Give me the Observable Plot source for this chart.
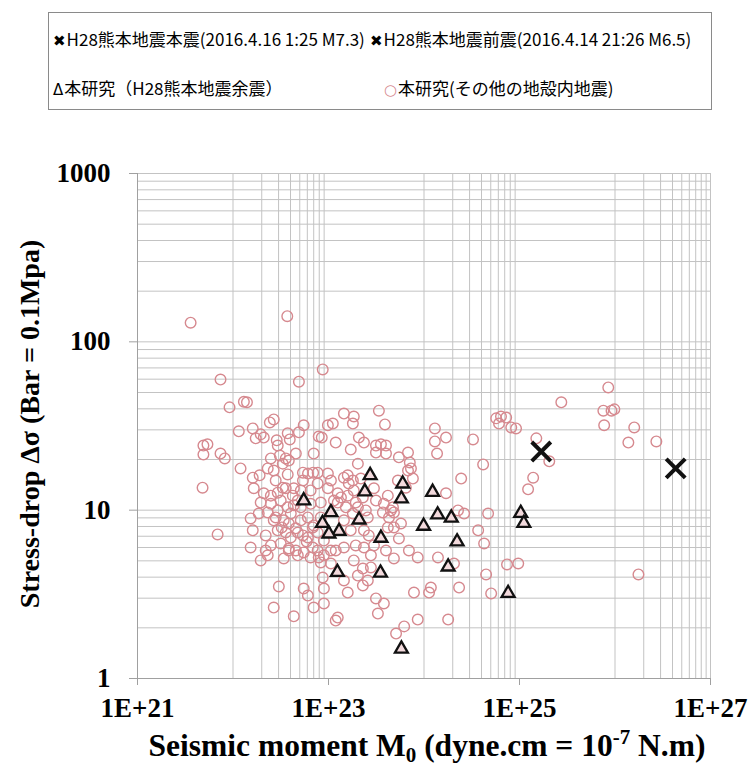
<!DOCTYPE html>
<html><head><meta charset="utf-8">
<script src="https://cdn.jsdelivr.net/npm/d3@7"></script>
<script src="https://cdn.jsdelivr.net/npm/@observablehq/plot@0.6"></script>
<style>
body{margin:0;background:#fff;}
#wrap{position:relative;width:750px;height:772px;overflow:hidden;background:#fff;}
#legend{position:absolute;left:48px;top:12px;width:664px;height:98px;border:1px solid #8a8a8a;box-sizing:border-box;font-family:"Noto Sans CJK JP","Noto Sans",sans-serif;font-size:17px;color:#000;}
#legend .item{position:absolute;white-space:nowrap;line-height:22px;}
#legend .sym{font-family:"DejaVu Sans",sans-serif;font-size:15px;margin-right:1px;}
</style></head><body>
<div id="wrap"><div id="chart"></div><div id="legend"></div></div>
<script>
// ---- data: seismic moment (dyne.cm) and stress drop (bar) ----
const otherMoment = [3.6e21,3.7e22,7.4e21,4.9e22,8.7e22,9.2e21,1.3e22,1.4e22,1.45e23,1.84e23,3.37e23,3.9e23,1.15e22,1.61e22,2.43e22,2.67e22,1.95e22,2.1e22,1.73e22,2.87e22,2.94e22,3.74e22,3.93e22,4.9e22,5.5e22,7.0e22,7.9e22,8.5e22,9.85e22,1.11e23,1.19e23,1.8e23,2.08e23,2.35e23,1.71e23,2.03e23,4.9e21,5.4e21,4.9e21,7.4e21,8.2e21,1.2e22,1.61e22,1.9e22,2.31e22,2.67e22,2.49e22,3.09e22,3.57e22,3.32e22,3.84e22,4.55e22,3.74e22,5.4e22,6.1e22,6.9e22,7.7e22,9.85e22,1.59e23,3.14e23,3.54e23,4.0e23,3.14e23,4.0e23,5.46e23,6.8e23,7.1e23,6.8e23,1.3e24,1.7e24,1.3e24,1.37e24,3.26e24,4.16e24,2.45e24,5.7e24,6.4e24,7.25e24,6.1e24,8.2e24,9.2e24,1.5e25,2.05e25,2.74e25,1.39e25,1.23e25,8.5e25,7.55e25,9.2e25,9.85e25,7.7e25,1.59e26,1.38e26,2.71e26,1.76e26,1.7e24,2.27e24,2.63e24,4.69e24,3.69e24,4.26e24,1.4e24,2.06e24,4.47e24,7.4e24,9.7e24,5.05e24,2.33e24,7.85e23,1.13e24,1.18e24,1.79e24,8.6e23,6.2e23,5.1e23,6.95e23,5.46e23,7.3e23,7.65e23,4.8e21,6.9e21,1.53e22,2.2e22,1.95e22,1.53e22,1.61e22,2.2e22,3.02e22,2.67e22,4.33e22,5.5e22,6.08e22,7.0e22,8.95e22,1.19e23,1.25e23,8.7e22,8.95e22,1.59e23,1.45e23,2.29e23,2.58e23,3.14e23,3.29e23,3.8e23,2.78e23,2.99e23,2.78e23,4.0e23,4.84e23,2.35e23,4.18e23,4.84e23,3.14e23,3.8e23,4.73e23,3.71e23,4.84e23,2.58e23,2.46e23,4.3e23,5.33e23,6.46e23,2.18e23,2.29e23,4.18e23,1.06e23,1.8e23,1.65e22,2.1e22,2.49e22,2.94e22,3.57e22,4.23e22,5.13e22,6.5e22,7.7e22,9.85e22,1.25e23,1.59e23,1.93e23,1.95e22,2.49e22,3.16e22,3.74e22,4.33e22,6.5e22,8.3e22,1.25e23,1.52e23,2.03e23,1.86e22,2.31e22,2.8e22,3.4e22,4.03e22,5.13e22,6.08e22,6.85e22,1.45e23,1.8e23,2.94e22,3.57e22,4.55e22,5.4e22,6.08e22,7.7e22,1.71e23,2.64e23,2.49e22,3.16e22,3.84e22,4.55e22,5.5e22,6.85e22,7.7e22,8.95e22,1.19e23,1.45e23,1.93e23,2.35e23,2.31e22,3.4e22,4.77e22,6.5e22,8.3e22,1.06e23,1.84e23,2.29e23,2.03e23,5.4e22,1.63e23,2.99e23,5.74e23,8.6e23,
  2.8e22,3.32e22,4.33e22,4.77e22,2.94e22,2.67e22,3.84e22,4.77e22,4.03e22,3.84e22,7.0e22,8.3e22,8.95e22,1.06e23,1.14e23,1.35e23,1.84e23,1.45e23,4.5e23,5.9e22,7.9e22,3.24e22,5.13e22];
const otherStress = [130,142,59.7,58,68.6,40.8,44,43.7,37.5,36,39,32.3,29.4,30.6,33.2,34.6,28.2,27,26.7,26,24.2,28.6,26.3,29,31.9,21.7,27.4,27,31.9,32.7,25.2,32.7,27,25.2,22.9,18.9,24.2,24.6,21.4,21.7,20.3,17.7,15.6,16.1,17.7,17.2,20.3,21.1,20.3,18.9,19.7,21.7,16.3,16.7,16.5,16.7,16.7,16.5,16.1,24.2,24.6,24.2,22,21.7,20.6,22,19.2,17.2,30.6,27,25.6,21.7,26.3,18.7,15.4,35.1,36,35.5,32.7,31,30.6,26.7,19.5,43.7,15.6,13.3,53.6,39,39,39.7,31.9,31,25.2,25.6,4.15,12.6,9.96,9.55,9.55,7.59,6.34,5.24,4.82,4.15,4.76,4.82,3.2,3.47,3.24,3.24,3.47,2.24,2.24,2.04,1.85,5.76,6.79,17.7,15.4,13.6,7.18,6.0,5.76,5.03,8.93,7.59,7.08,3.52,2.64,2.34,3.42,3.11,2.64,2.79,2.21,2.3,3.98,3.42,3.24,3.82,3.57,3.82,2.99,2.43,2.79,4.57,6.17,5.39,5.76,5.17,7.59,7.9,7.9,11.4,10.9,10.4,9.7,9.7,9.05,9.96,9.05,15,13.6,15.4,11.9,12.2,15,15,13.5,12.6,12.2,12.7,13.5,12.2,13.1,13.1,14.4,13.5,12.6,12.2,11.1,11.1,10.9,11.4,10.4,10.7,10.9,11.1,11.1,10.4,10.4,9.55,9.7,9.05,8.7,9.55,8.7,9.05,7.9,8.7,9.55,7.59,7.36,7.8,7.08,6.88,7.36,7.59,7.08,6.17,6.34,5.92,5.76,5.61,6.0,5.76,5.39,5.76,6.0,6.17,6.0,5.39,5.17,5.39,5.24,4.89,4.82,5.03,4.5,4.09,15,14.4,13.5,8.33,5.24,
  15.0,13.6,13.5,11.4,9.96,8.7,8.33,7.36,6.88,5.76,8.12,9.05,6.6,5.76,11.4,11.9,13.1,15.6,9.96,6.52,5.24,7.9,10.4];

const afterMoment = [5.5e22,1.06e23,8.65e22,1.29e23,1.01e23,2.09e23,1.24e23,2.73e23,2.4e23,3.54e23,3.5e23,5.98e23,5.8e23,1.23e24,1.39e24,1.93e24,9.9e23,2.22e24,1.79e24,7.6e24,1.03e25,1.11e25,5.8e23];
const afterStress = [11.4,9.7,8.37,7.5,7.24,8.77,4.28,16.1,12.9,6.83,4.24,14.35,11.7,12.8,9.4,9.0,8.05,6.5,4.61,3.21,9.6,8.37,1.5];

const mainMoment = [4.32e26, 1.69e25];   // 本震 M7.3, 前震 M6.5
const mainStress = [17.7, 22.3];

const xTicks = [1e21, 1e23, 1e25, 1e27];
const xTickLabels = ["1E+21", "1E+23", "1E+25", "1E+27"];
const yTicks = [1, 10, 100, 1000];
const yTickLabels = ["1", "10", "100", "1000"];
const xGridDecades = [1e22, 1e24, 1e26];
const yGridDecades = [1, 10, 100];
const gridSteps = [1, 2, 3, 4, 5, 6, 7, 8, 9];

const legendLabels = [
  "H28熊本地震本震(2016.4.16 1:25 M7.3)",
  "H28熊本地震前震(2016.4.14 21:26 M6.5)",
  "本研究（H28熊本地震余震）",
  "本研究(その他の地殻内地震)"
];

// ---- tables ----
const others = otherMoment.map((m, i) => ({m, s: otherStress[i]}));
const afters = afterMoment.map((m, i) => ({m, s: afterStress[i]}));
const mains = mainMoment.map((m, i) => ({m, s: mainStress[i]}));
const xGrid = xGridDecades.flatMap(d => gridSteps.map(k => k * d)).concat([1e27]);
const yGrid = yGridDecades.flatMap(d => gridSteps.map(k => k * d)).concat([1000]);

const gridColor = "#c3c3c3";
const axisColor = "#a0a0a0";
const pink = "#d6898f";

const chart = Plot.plot({
  width: 750, height: 772,
  marginLeft: 137, marginRight: 40, marginTop: 173, marginBottom: 94,
  style: {fontFamily: "'Liberation Serif','Times New Roman',serif", background: "white", color: "black"},
  x: {type: "log", domain: [1e21, 1e27]},
  y: {type: "log", domain: [1, 1000]},
  marks: [
    Plot.ruleX(xGrid, {stroke: gridColor, strokeWidth: 1}),
    Plot.ruleY(yGrid, {stroke: gridColor, strokeWidth: 1}),
    Plot.ruleX([1e21], {stroke: axisColor}),
    Plot.ruleY([1], {stroke: axisColor}),
    Plot.axisX({ticks: xTicks, tickFormat: d => xTickLabels[xTicks.indexOf(d)], tickSize: 7, tickPadding: 12,
      fontSize: 27, fontWeight: "bold", stroke: axisColor, fill: "black", label: null}),
    Plot.axisY({ticks: yTicks, tickFormat: d => yTickLabels[yTicks.indexOf(d)], tickSize: 8, tickPadding: 19,
      fontSize: 27, fontWeight: "bold", stroke: axisColor, fill: "black", label: null}),
    Plot.dot(others, {x: "m", y: "s", r: 5.3, stroke: pink, strokeWidth: 1.4, fill: "none"}),
    Plot.dot(afters, {x: "m", y: "s", symbol: "triangle", r: 4.8, stroke: "#111", strokeWidth: 2.3, fill: "#f3dadd"}),
    Plot.dot(mains, {x: "m", y: "s", symbol: "times", r: 8.7, stroke: "#111", strokeWidth: 4})
  ]
});
document.getElementById("chart").appendChild(chart);

// ---- axis titles ----
const svg = d3.select(chart);
const xt = svg.append("text")
  .attr("x", 427).attr("y", 756)
  .attr("text-anchor", "middle")
  .attr("font-family", "'Liberation Serif','Times New Roman',serif")
  .attr("font-weight", "bold").attr("font-size", 31.5).attr("fill", "black");
xt.append("tspan").text("Seismic moment M");
xt.append("tspan").attr("font-size", 21).attr("dy", 6).text("0");
xt.append("tspan").attr("dy", -6).text(" (dyne.cm = 10");
xt.append("tspan").attr("font-size", 21).attr("dy", -12).text("-7");
xt.append("tspan").attr("dy", 12).text(" N.m)");

svg.append("text")
  .attr("transform", "translate(39,424) rotate(-90)")
  .attr("text-anchor", "middle")
  .attr("font-family", "'Liberation Serif','Times New Roman',serif")
  .attr("font-weight", "bold").attr("font-size", 28).attr("fill", "black")
  .text("Stress-drop Δσ (Bar = 0.1Mpa)");

// ---- legend ----
const legendItems = [
  {sym: "✖", color: "#000", label: legendLabels[0], left: 4, top: 15},
  {sym: "✖", color: "#000", label: legendLabels[1], left: 321, top: 15},
  {sym: "Δ", color: "#000", label: legendLabels[2], left: 4, top: 64},
  {sym: "○", color: pink, label: legendLabels[3], left: 335, top: 64}
];
const leg = d3.select("#legend");
legendItems.forEach(it => {
  const d = leg.append("div").attr("class", "item").style("left", it.left + "px").style("top", it.top + "px");
  d.append("span").attr("class", "sym").style("color", it.color).text(it.sym);
  d.append("span").text(it.label);
});
</script>
</body></html>
